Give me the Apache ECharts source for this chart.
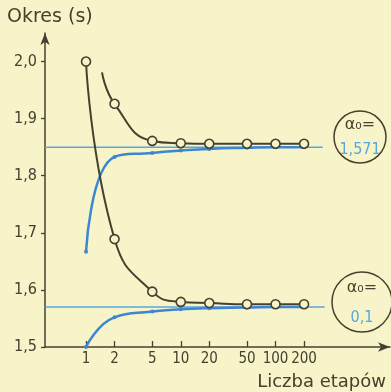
<!DOCTYPE html>
<html><head><meta charset="utf-8">
<script src="https://cdn.jsdelivr.net/npm/echarts@6/dist/echarts.min.js"></script>
<style>html,body{margin:0;padding:0;background:#f8f4c9;}#c{width:391px;height:392px;}</style>
</head><body><div id="c"></div>
<script>
const xTicks = [1, 2, 5, 10, 20, 50, 100, 200];
const yTicks = [1.5, 1.6, 1.7, 1.8, 1.9, 2.0];
const upperBlackX = [1.475, 2, 5, 10, 20, 50, 100, 200];
const upperBlackY = [1.981, 1.926, 1.861, 1.857, 1.856, 1.856, 1.856, 1.856];
const lowerBlackX = [1, 2, 5, 10, 20, 50, 100, 200];
const lowerBlackY = [2.0, 1.689, 1.597, 1.579, 1.577, 1.575, 1.575, 1.575];
const blueX = [1, 2, 5, 10, 20, 50, 100, 200];
const upperBlueY = [1.667, 1.833, 1.840, 1.844, 1.847, 1.849, 1.850, 1.850];
const lowerBlueY = [1.500, 1.552, 1.562, 1.566, 1.568, 1.569, 1.570, 1.570];
const limitY = [1.850, 1.570];
const limitEndX = [315, 330];
const alphaLabels = ['1,571', '0,1'];

const INK = '#45402f', BLUE = '#3d86d2', LBLUE = '#5aa6dc', BG = '#f8f4c9';
const FONT = '"DejaVu Sans Condensed", "Liberation Sans Narrow", "DejaVu Sans"';
const X_MIN = 0.369, X_MAX = 1615;

function pairs(xs, ys) { return xs.map((x, i) => [x, ys[i]]); }

const upperBlackData = pairs(upperBlackX, upperBlackY).map((p, i) =>
  i === 0 ? { value: p, symbol: 'none' } : p);

const chart = echarts.init(document.getElementById('c'), null, { renderer: 'canvas' });
const blackStyle = (data) => ({
  type: 'line', data, smooth: 0.5,
  symbol: 'circle', symbolSize: 9, z: 5,
  lineStyle: { color: INK, width: 2 },
  itemStyle: { color: BG, borderColor: INK, borderWidth: 1.6 }
});
const blueStyle = (data) => ({
  type: 'line', data, smooth: 0.5,
  symbol: 'circle', symbolSize: 4, z: 4,
  lineStyle: { color: BLUE, width: 2.5 },
  itemStyle: { color: BLUE }
});
const limitStyle = (y, xe) => ({
  type: 'line', data: [[X_MIN, y], [xe, y]], symbol: 'none', z: 3,
  lineStyle: { color: LBLUE, width: 1.5 }
});

chart.setOption({
  backgroundColor: BG,
  animation: false,
  grid: { left: 45, right: 1, top: 33, bottom: 45 },
  xAxis: {
    type: 'log', logBase: 10, min: X_MIN, max: X_MAX,
    axisLine: { show: true, lineStyle: { color: INK, width: 1.5 }, symbol: ['none', 'arrow'], symbolSize: [7, 12] },
    axisTick: { show: true, inside: true, length: 6, customValues: xTicks, lineStyle: { color: INK, width: 1.3 } },
    axisLabel: { customValues: xTicks, color: INK, fontFamily: FONT, fontSize: 15, margin: 5,
      formatter: v => String(Math.round(v)) },
    splitLine: { show: false }, minorTick: { show: false }
  },
  yAxis: {
    type: 'value', min: 1.5, max: 2.05,
    axisLine: { show: true, lineStyle: { color: INK, width: 1.5 }, symbol: ['none', 'arrow'], symbolSize: [7, 12] },
    axisTick: { show: true, length: 4, customValues: yTicks, lineStyle: { color: INK, width: 1.3 } },
    axisLabel: { customValues: yTicks, color: INK, fontFamily: FONT, fontSize: 16, margin: 8,
      formatter: v => v.toFixed(1).replace('.', ',') },
    splitLine: { show: false }
  },
  series: [
    limitStyle(limitY[0], limitEndX[0]),
    limitStyle(limitY[1], limitEndX[1]),
    blueStyle(pairs(blueX, upperBlueY)),
    blueStyle(pairs(blueX, lowerBlueY)),
    blackStyle(upperBlackData),
    blackStyle(pairs(lowerBlackX, lowerBlackY))
  ],
  graphic: [
    { type: 'text', left: 7, top: 8, style: { text: 'Okres (s)', fill: INK, font: '19px "DejaVu Sans"' } },
    { type: 'text', right: 5, top: 373, style: { text: 'Liczba etapów', fill: INK, font: '18px "DejaVu Sans"' } },
    { type: 'circle', shape: { cx: 360, cy: 137, r: 26 }, style: { fill: 'none', stroke: INK, lineWidth: 1.5 } },
    { type: 'text', x: 360, y: 125, style: { text: 'α₀=', fill: INK, font: '16px "DejaVu Sans"', align: 'center', verticalAlign: 'middle' } },
    { type: 'text', x: 360, y: 150, style: { text: alphaLabels[0], fill: LBLUE, font: '16px "DejaVu Sans Condensed", "DejaVu Sans"', align: 'center', verticalAlign: 'middle' } },
    { type: 'circle', shape: { cx: 362, cy: 302, r: 30 }, style: { fill: 'none', stroke: INK, lineWidth: 1.5 } },
    { type: 'text', x: 362, y: 288, style: { text: 'α₀=', fill: INK, font: '16px "DejaVu Sans"', align: 'center', verticalAlign: 'middle' } },
    { type: 'text', x: 362, y: 318, style: { text: alphaLabels[1], fill: LBLUE, font: '16px "DejaVu Sans Condensed", "DejaVu Sans"', align: 'center', verticalAlign: 'middle' } }
  ]
});
</script></body></html>
